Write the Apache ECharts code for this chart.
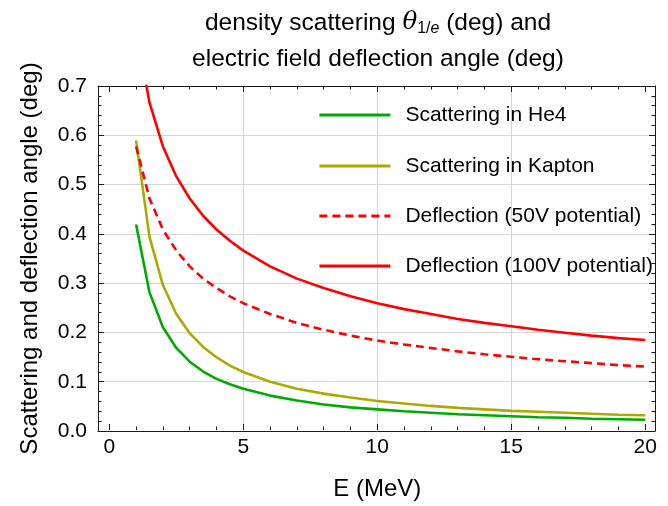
<!DOCTYPE html>
<html><head><meta charset="utf-8">
<script src="https://cdn.jsdelivr.net/npm/echarts@6/dist/echarts.min.js"></script>
<style>html,body{margin:0;padding:0;background:#fff}#c{width:668px;height:506px}</style>
</head><body><div id="c"></div>
<script>
// Energy (MeV)
const energy = [1,1.5,2,2.5,3,3.5,4,4.5,5,6,7,8,9,10,11,12,13,14,15,16,17,18,19,20];
// Scattering in He4 (deg)
const he4 = [0.418,0.280,0.209,0.167,0.139,0.119,0.104,0.093,0.084,0.070,0.060,0.052,0.046,0.042,0.038,0.035,0.032,0.030,0.028,0.026,0.025,0.023,0.022,0.021];
// Scattering in Kapton (deg)
const kapton = [0.589,0.393,0.295,0.236,0.197,0.169,0.148,0.131,0.118,0.098,0.084,0.074,0.066,0.059,0.054,0.049,0.045,0.042,0.039,0.037,0.035,0.033,0.031,0.030];
// Deflection (50V potential) (deg)
const defl50 = [0.577,0.471,0.408,0.365,0.333,0.308,0.289,0.272,0.258,0.236,0.218,0.204,0.192,0.182,0.174,0.167,0.160,0.154,0.149,0.144,0.140,0.136,0.132,0.129];
// Deflection (100V potential) (deg)
const defl100 = [0.816,0.666,0.577,0.516,0.471,0.436,0.408,0.385,0.365,0.333,0.308,0.289,0.272,0.258,0.246,0.236,0.226,0.218,0.211,0.204,0.198,0.192,0.187,0.183];

const seriesNames = ['Scattering in He4','Scattering in Kapton','Deflection (50V potential)','Deflection (100V potential)'];
const seriesValues = [he4, kapton, defl50, defl100];
const seriesColors = ['#00aa00','#aaaa00','#ff0000','#ff0000'];
const seriesDash = ['solid','solid',[8,5],'solid'];

const xName = 'E (MeV)';
const yName = 'Scattering and deflection angle (deg)';

const FONT = 'Liberation Sans, Arial, sans-serif';
const frameColor = '#1a1a1a';
const gridColor = '#d4d4d4';

const chart = echarts.init(document.getElementById('c'), null, {renderer:'canvas'});

const frameX = (pos) => ({
  gridIndex: 0, type: 'value', position: pos, min: -0.4, max: 20.4,
  axisLine: {show: true, onZero: false, lineStyle: {color: frameColor, width: 1}},
  axisTick: {show: false}, axisLabel: {show: false}, splitLine: {show: false}
});
const dataX = (pos, labels) => ({
  gridIndex: 1, type: 'value', position: pos, min: 0, max: 20, interval: 5,
  axisLine: {show: false, onZero: false},
  axisTick: {show: true, inside: true, length: 6, lineStyle: {color: frameColor}},
  minorTick: {show: true, splitNumber: 5, length: 3.5, lineStyle: {color: frameColor}},
  axisLabel: {show: labels, fontSize: 21, color: '#000', fontFamily: FONT, margin: 7},
  splitLine: labels ? {show: true, showMinLine: false, showMaxLine: false, lineStyle: {color: gridColor, width: 1}} : {show: false},
  name: labels ? xName : '', nameLocation: 'middle', nameGap: 47,
  nameTextStyle: {fontSize: 24, color: '#000', fontFamily: FONT}
});
const frameY = (pos, labels) => ({
  gridIndex: 0, type: 'value', position: pos, min: 0, max: 0.7, interval: 0.1,
  axisLine: {show: true, onZero: false, lineStyle: {color: frameColor, width: 1}},
  axisTick: {show: true, inside: true, length: 6, lineStyle: {color: frameColor}},
  minorTick: {show: true, splitNumber: 5, length: 3.5, lineStyle: {color: frameColor}},
  axisLabel: {show: labels, fontSize: 21, color: '#000', fontFamily: FONT, margin: 11, formatter: v => v.toFixed(1)},
  splitLine: labels ? {show: true, showMinLine: false, showMaxLine: false, lineStyle: {color: gridColor, width: 1}} : {show: false},
  name: labels ? yName : '', nameLocation: 'middle', nameRotate: 90, nameGap: 56,
  nameTextStyle: {fontSize: 24, color: '#000', fontFamily: FONT}
});

const legendCenters = [115, 166, 216, 266];

const option = {
  backgroundColor: '#fff',
  animation: false,
  title: {
    text: 'density scattering {th|θ}{sub|1/}{sube|e} (deg) and\nelectric field deflection angle (deg)',
    left: 373, top: 0, textAlign: 'center',
    textStyle: {
      fontSize: 24.5, fontWeight: 'normal', color: '#000', fontFamily: FONT, lineHeight: 36,
      rich: {
        th: {fontSize: 24.5, fontStyle: 'italic', fontFamily: 'DejaVu Serif, serif', color: '#000', lineHeight: 36},
        sub: {fontSize: 16, color: '#000', fontFamily: FONT, padding: [11,0,0,0], lineHeight: 36},
        sube: {fontSize: 16, fontStyle: 'italic', color: '#000', fontFamily: FONT, padding: [11,0,0,0], lineHeight: 36}
      }
    }
  },
  grid: [
    {left: 98, right: 13, top: 86, bottom: 75, containLabel: false},
    {left: 109.3, right: 22.7, top: 86, bottom: 75, containLabel: false}
  ],
  xAxis: [frameX('bottom'), frameX('top'), dataX('bottom', true), dataX('top', false)],
  yAxis: [frameY('left', true), frameY('right', false),
    {gridIndex: 1, type: 'value', min: 0, max: 0.7, show: false}],
  legend: seriesNames.map((n, i) => ({
    data: [n], orient: 'vertical', left: 318, top: legendCenters[i] - 12, padding: 0,
    itemWidth: 71, itemHeight: 14, selectedMode: false,
    itemStyle: {opacity: 0},
    lineStyle: {width: 2.8},
    textStyle: {fontSize: 21, color: '#000', fontFamily: FONT, lineHeight: 24, padding: [0,0,0,10]}
  })),
  series: seriesNames.map((n, i) => ({
    name: n, type: 'line', xAxisIndex: 2, yAxisIndex: 2,
    data: energy.map((e, j) => [e, seriesValues[i][j]]),
    symbol: 'none', showSymbol: false, clip: true, smooth: false,
    lineStyle: {color: seriesColors[i], width: 2.6, type: seriesDash[i]},
    itemStyle: {color: seriesColors[i]}
  }))
};
chart.setOption(option);
</script>
</body></html>
